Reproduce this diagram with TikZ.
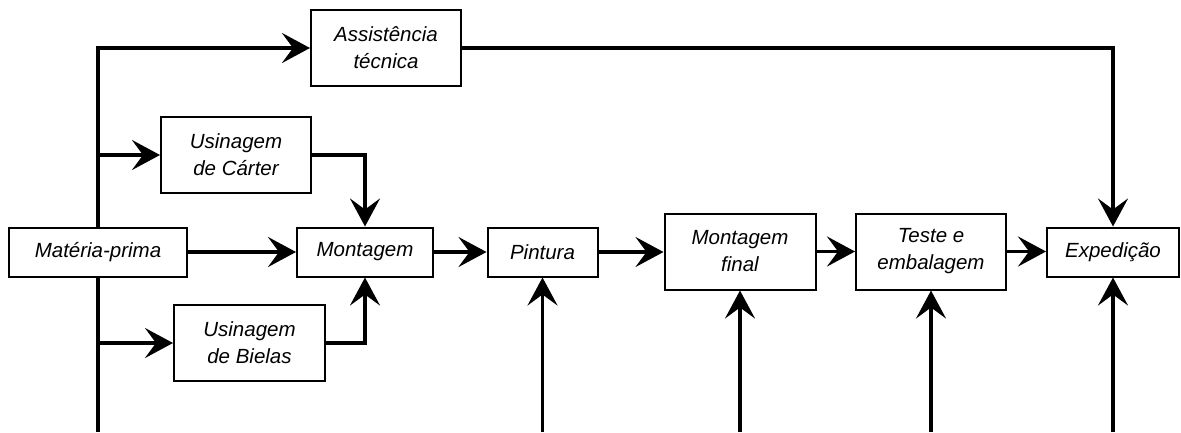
\documentclass[tikz,border=0pt]{standalone}
\usepackage{fontspec}
\setmainfont{Liberation Sans}
\usetikzlibrary{arrows.meta}
\tikzset{
  box/.style={draw, line width=2pt, inner sep=0pt, align=center,
    font=\fontsize{20.5}{27}\selectfont\itshape},
  conn/.style={line width=3.2pt},
  arr/.style={conn, -{Stealth[length=28pt, width=30pt, inset=11pt]}}
}
\begin{document}
\begin{tikzpicture}[x=1pt,y=-1pt]
\useasboundingbox (0,0) rectangle (1181,432);
\fill[white] (0,0) rectangle (1181,432);
\node[box, minimum width=150pt, minimum height=76pt] (as) at (386,48) {Assistência\\técnica};
\node[box, minimum width=150pt, minimum height=76pt] (uc) at (236,155) {Usinagem\\de Cárter};
\node[box, minimum width=178pt, minimum height=49pt] (mp) at (98,252) {Matéria-prima};
\node[box, minimum width=136pt, minimum height=49pt] (mo) at (365,252) {Montagem};
\node[box, minimum width=151pt, minimum height=76pt] (ub) at (249.5,343) {Usinagem\\de Bielas};
\node[box, minimum width=110pt, minimum height=49pt] (pi) at (542.5,252) {Pintura};
\node[box, minimum width=151pt, minimum height=76pt] (mf) at (740,251.5) {Montagem\\final};
\node[box, minimum width=150pt, minimum height=76pt] (te) at (931,251.5) {Teste e\\embalagem};
\node[box, minimum width=132pt, minimum height=49pt] (ex) at (1113,252) {Expedição};
\coordinate (b0) at (98,432);
\coordinate (b1) at (542.5,432);
\coordinate (b2) at (740,432);
\coordinate (b3) at (931,432);
\coordinate (b4) at (1113,432);
% left trunk
\draw[arr] (mp.north) |- (as.west);
\draw[arr] (mp.north |- uc.west) -- (uc.west);
\draw[conn] (mp.south) -- (b0);
\draw[arr] (mp.south |- ub.west) -- (ub.west);
\draw[arr] (mp.east) -- (mo.west);
\draw[arr] (uc.east) -| (mo.north);
\draw[arr] (ub.east) -| (mo.south);
\draw[arr] (mo.east) -- (pi.west);
\draw[arr] (pi.east) -- (pi.east -| mf.west);
\draw[arr] (mf.east) -- (mf.east -| te.west);
\draw[arr] (te.east) -- (te.east -| ex.west);
\draw[arr] (as.east) -| (ex.north);
\draw[arr] (b1) -- (pi.south);
\draw[arr] (b2) -- (mf.south);
\draw[arr] (b3) -- (te.south);
\draw[arr] (b4) -- (ex.south);
\end{tikzpicture}
\end{document}
